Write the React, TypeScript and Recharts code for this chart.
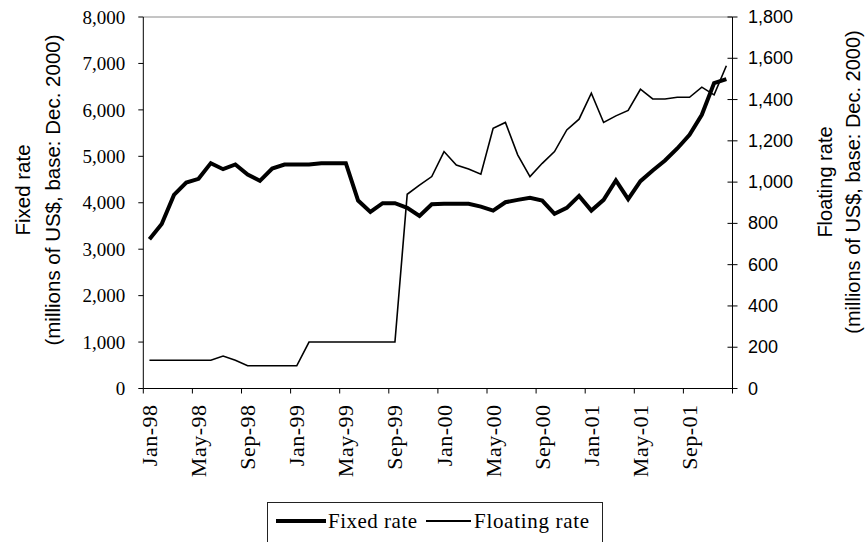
import React from "react";
import { LineChart, Line, XAxis, YAxis, ReferenceLine } from "recharts";

const months = [
  "Jan-98", "Feb-98", "Mar-98", "Apr-98", "May-98", "Jun-98", "Jul-98", "Aug-98", "Sep-98", "Oct-98", "Nov-98", "Dec-98",
  "Jan-99", "Feb-99", "Mar-99", "Apr-99", "May-99", "Jun-99", "Jul-99", "Aug-99", "Sep-99", "Oct-99", "Nov-99", "Dec-99",
  "Jan-00", "Feb-00", "Mar-00", "Apr-00", "May-00", "Jun-00", "Jul-00", "Aug-00", "Sep-00", "Oct-00", "Nov-00", "Dec-00",
  "Jan-01", "Feb-01", "Mar-01", "Apr-01", "May-01", "Jun-01", "Jul-01", "Aug-01", "Sep-01", "Oct-01", "Nov-01", "Dec-01",
];

const fixedRate = [
  3213, 3544, 4170, 4436, 4515, 4853, 4723, 4824, 4608, 4472, 4738, 4824,
  4824, 4824, 4853, 4853, 4853, 4047, 3803, 3990, 3990, 3889, 3717, 3968,
  3976, 3976, 3976, 3918, 3832, 4011, 4062, 4105, 4047, 3760, 3889, 4148,
  3832, 4062, 4479, 4076, 4464, 4694, 4910, 5169, 5464, 5895, 6578, 6664,
];

const floatingRate = [
  137, 137, 137, 137, 137, 137, 157, 137, 110, 110, 110, 110,
  110, 225, 225, 225, 225, 225, 225, 225, 225, 941, 985, 1027,
  1148, 1083, 1064, 1038, 1261, 1289, 1132, 1027, 1091, 1148, 1253, 1305,
  1431, 1289, 1321, 1347, 1450, 1403, 1403, 1411, 1411, 1460, 1423, 1564,
];

const leftTicks = [0, 1000, 2000, 3000, 4000, 5000, 6000, 7000, 8000];
const rightTicks = [0, 200, 400, 600, 800, 1000, 1200, 1400, 1600, 1800];
const labelEvery = 4;

const leftTitle = ["Fixed rate", "(millions of US$, base: Dec. 2000)"];
const rightTitle = ["Floating rate", "(millions of US$, base: Dec. 2000)"];
const legendNames = ["Fixed rate", "Floating rate"];

const data = months.map((m, i) => ({
  idx: i,
  month: m,
  fixed: fixedRate[i],
  floating: floatingRate[i],
}));

const xTicks = months
  .map((_, i) => i - 0.5)
  .filter((_, i) => i % labelEvery === 0)
  .concat([months.length - 0.5]);

const SERIF = "'Liberation Serif', 'Times New Roman', serif";
const SANS = "'Liberation Sans', Arial, sans-serif";

const fmt = (v: number) => v.toLocaleString("en-US");

const XTick = (props: any) => {
  const { x, y, payload } = props;
  const i = Math.round(payload.value + 0.5);
  if (i < 0 || i >= months.length) return <g />;
  const cx = x + 6.1;
  return (
    <text
      x={cx}
      y={y}
      transform={`rotate(-90, ${cx}, ${y})`}
      textAnchor="end"
      dominantBaseline="central"
      fontFamily={SERIF}
      fontSize={22}
      letterSpacing={0.5}
      fill="#000"
    >
      {months[i]}
    </text>
  );
};

const RightTick = (props: any) => {
  const { x, y, payload } = props;
  return (
    <g>
      <line x1={x - 10.5 - 10} x2={x - 10.5 - 5} y1={y} y2={y} stroke="#000" strokeWidth={1} />
      <text x={x} y={y} dominantBaseline="central" fontFamily={SANS} fontSize={18} fill="#000">
        {fmt(payload.value)}
      </text>
    </g>
  );
};

const TitleContent = (lines: string[], x1: number, x2: number, cy: number, size: number) => (props: any) => {
  const vb = props.viewBox || { x: 0 };
  const a = vb.x + x1;
  const b = vb.x + x2;
  return (
    <g>
      <text
        x={a}
        y={cy}
        transform={`rotate(-90, ${a}, ${cy})`}
        textAnchor="middle"
        dominantBaseline="central"
        fontFamily={SANS}
        fontSize={size}
        fill="#000"
      >
        {lines[0]}
      </text>
      <text
        x={b}
        y={cy}
        transform={`rotate(-90, ${b}, ${cy})`}
        textAnchor="middle"
        dominantBaseline="central"
        fontFamily={SANS}
        fontSize={size}
        fill="#000"
      >
        {lines[1]}
      </text>
    </g>
  );
};

export default function App() {
  return (
    <div
      style={{
        position: "absolute",
        left: 0,
        top: 0,
        width: 865,
        height: 542,
        overflow: "hidden",
        background: "#fff",
      }}
    >
      <LineChart
        width={865}
        height={542}
        data={data}
        margin={{ top: 17, right: 0, bottom: 0, left: 0 }}
      >
        <XAxis
          type="number"
          dataKey="idx"
          domain={[-0.5, months.length - 0.5]}
          ticks={xTicks}
          interval={0}
          height={153.5}
          tick={<XTick />}
          tickSize={5}
          tickMargin={11}
          axisLine={{ stroke: "#000", strokeWidth: 1 }}
          tickLine={{ stroke: "#000", strokeWidth: 1 }}
        />
        <YAxis
          yAxisId="left"
          orientation="left"
          width={143.3}
          domain={[0, 8000]}
          ticks={leftTicks}
          interval={0}
          tickFormatter={fmt}
          tickSize={5}
          tickMargin={13}
          tick={{ fontFamily: SERIF, fontSize: 19, fill: "#000" }}
          axisLine={{ stroke: "#000", strokeWidth: 1 }}
          tickLine={{ stroke: "#000", strokeWidth: 1 }}
          label={TitleContent(leftTitle, 22, 52, 190, 20.5)}
        />
        <YAxis
          yAxisId="right"
          orientation="right"
          width={132.5}
          domain={[0, 1800]}
          ticks={rightTicks}
          interval={0}
          tickSize={5}
          tickMargin={10.5}
          tick={<RightTick />}
          axisLine={{ stroke: "#000", strokeWidth: 1 }}
          tickLine={{ stroke: "#000", strokeWidth: 1 }}
          label={TitleContent(rightTitle, 92, 120, 182, 20)}
        />
        <ReferenceLine yAxisId="left" y={8000} stroke="#8a8a8a" strokeWidth={1} />
        <Line
          yAxisId="left"
          type="linear"
          dataKey="fixed"
          stroke="#000"
          strokeWidth={4}
          dot={false}
          isAnimationActive={false}
        />
        <Line
          yAxisId="right"
          type="linear"
          dataKey="floating"
          stroke="#000"
          strokeWidth={1.6}
          dot={false}
          isAnimationActive={false}
        />
      </LineChart>
      <div
        style={{
          position: "absolute",
          left: 267,
          top: 502,
          width: 336,
          height: 50,
          border: "1px solid #222",
          background: "#fff",
          boxSizing: "border-box",
        }}
      >
        <div style={{ position: "absolute", left: 8, top: 16, width: 50, height: 4, background: "#000" }} />
        <div
          style={{
            position: "absolute",
            left: 60,
            top: 4,
            fontFamily: SERIF,
            fontSize: 21,
            letterSpacing: 0.5,
            lineHeight: "28px",
            whiteSpace: "nowrap",
            color: "#000",
          }}
        >
          {legendNames[0]}
        </div>
        <div style={{ position: "absolute", left: 158, top: 17, width: 45, height: 1.5, background: "#000" }} />
        <div
          style={{
            position: "absolute",
            left: 206,
            top: 4,
            fontFamily: SERIF,
            fontSize: 21,
            letterSpacing: 0.7,
            lineHeight: "28px",
            whiteSpace: "nowrap",
            color: "#000",
          }}
        >
          {legendNames[1]}
        </div>
      </div>
    </div>
  );
}
